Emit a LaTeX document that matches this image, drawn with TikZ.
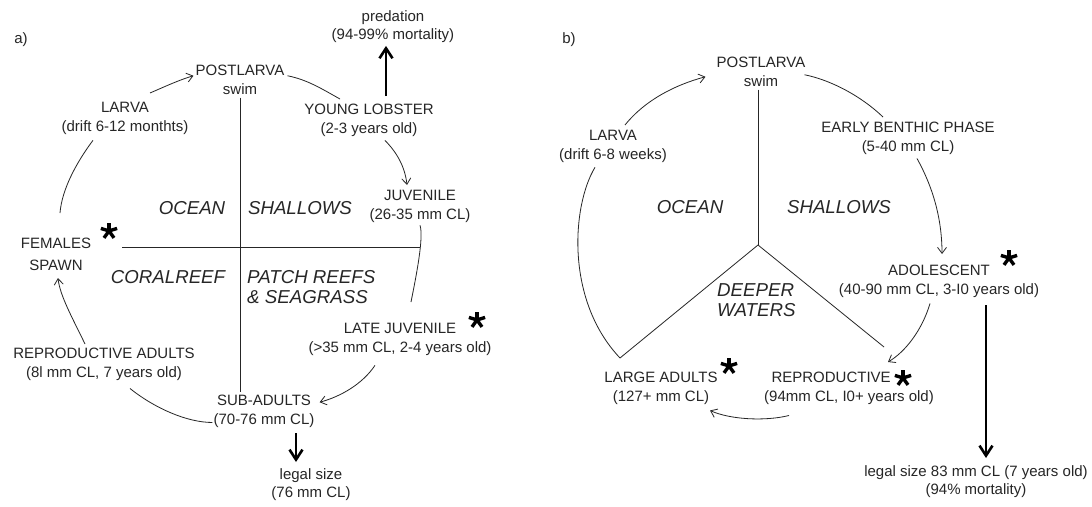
\documentclass[tikz,border=0pt]{standalone}
\usepackage{fontspec}
\setmainfont{Liberation Sans}
\usetikzlibrary{arrows.meta,calc}
\begin{document}
\begin{tikzpicture}[x=1pt,y=-1pt,
  lbl/.style={anchor=north, align=center, inner sep=3pt, text=black!85, font=\fontsize{15}{18.5}\selectfont},
  reg/.style={inner sep=0pt, text=black!85, font=\fontsize{18.7}{20}\selectfont\itshape},
  ln/.style={line width=0.8pt, black!85},
  arr/.style={ln, -{Straight Barb[length=6pt,width=9pt]}},
  bigarr/.style={line width=2.6pt, black, -{Straight Barb[length=10pt,width=13pt]}},
  ast/.pic={\foreach \a in {-90,-18,54,126,198} \draw[line width=3.4pt, black] (0,0) -- (\a:8.5);}
]
\useasboundingbox (0,0) rectangle (1092,506);
\fill[white] (0,0) rectangle (1092,506);

% ---------- panel a ----------
\node[lbl] (la) at (21,29) {a)};
\node[lbl] (pred) at (393,7) {predation\\(94-99\% mortality)};
\node[lbl] (postA) at (240,62) {POSTLARVA\\swim};
\node[lbl] (larvaA) at (125,99) {LARVA\\(drift 6-12 monthts)};
\node[lbl] (youngA) at (369,101) {YOUNG LOBSTER\\(2-3 years old)};
\node[lbl] (juvA) at (420,187) {JUVENILE\\(26-35 mm CL)};
\node[lbl] (femA) at (56,235) {FEMALES\\[3.5pt]SPAWN};
\node[lbl] (lateA) at (400,320) {LATE JUVENILE\\(>35 mm CL, 2-4 years old)};
\node[lbl] (repA) at (104,345) {REPRODUCTIVE ADULTS\\(8l mm CL, 7 years old)};
\node[lbl] (subA) at (264,392) {SUB-ADULTS\\(70-76 mm CL)};
\node[lbl] (legalA) at (311,465) {legal size\\(76 mm CL)};

\node[reg] (oceanA) at (192,208) {OCEAN};
\node[reg] (shalA) at (300,208) {SHALLOWS};
\node[reg] (coralA) at (168,277) {CORALREEF};
\node[reg, anchor=north west, align=left] (patchA) at (247,270) {PATCH REEFS\\\& SEAGRASS};

\pic at (109,231) {ast};
\pic at (477,320) {ast};

\coordinate (hL) at (122,247);
\coordinate (hR) at (420,247);
\draw[ln] (postA.south) -- (postA.south |- subA.north);
\draw[ln] (hL) -- (hR);

\draw[arr] ($(larvaA.north)+(25,-6)$) .. controls +(14,-6) and +(-14,4) .. ($(postA.west)+(1,-4)$);
\draw[ln] ($(postA.east)+(0,-4)$) .. controls +(20,4) and +(-18,-10) .. ($(youngA.north)+(-29,-2)$);
\draw[bigarr] ($(youngA.north)+(17,-5)$) -- ($(pred.south)+(-7,0)$);
\draw[arr] ($(youngA.south)+(16,1)$) .. controls +(12,12) and +(-2,-18) .. ($(juvA.north)+(-13,-2)$);
\draw[ln] (juvA.south) .. controls +(4,12) and +(5,-25) .. ($(lateA.north)+(11,-18)$);
\draw[arr] ($(lateA.south)+(-25,7)$) .. controls +(-12,18) and +(22,-6) .. ($(subA.east)+(2,-9)$);
\draw[ln] ($(repA.south)+(26,5)$) .. controls +(25,20) and +(-25,0) .. ($(subA.south west)+(2,-8)$);
\draw[arr] ($(repA.north)+(-19,-1)$) .. controls +(-12,-25) and +(2,18) .. ($(femA.south)+(2,4)$);
\draw[ln] ($(larvaA.south)+(-32,3)$) .. controls +(-15,20) and +(2,-25) .. ($(femA.north)+(4,-22)$);
\draw[bigarr] ($(subA.south)+(32,3)$) -- ($(legalA.north)+(-15,-3)$);

% ---------- panel b ----------
\node[lbl] (lb) at (569,29) {b)};
\node[lbl] (postB) at (761,54) {POSTLARVA\\swim};
\node[lbl] (larvaB) at (613,127) {LARVA\\(drift 6-8 weeks)};
\node[lbl] (earlyB) at (908,119) {EARLY BENTHIC PHASE\\(5-40 mm CL)};
\node[lbl] (adolB) at (939,262) {ADOLESCENT\\(40-90 mm CL, 3-I0 years old)};
\node[lbl] (reproB) at (849,369) {\makebox[155pt][l]{REPRODUCTIVE}\\(94mm CL, I0+ years old)};
\node[lbl] (largeB) at (661,369) {LARGE ADULTS\\(127+ mm CL)};
\node[lbl] (legalB) at (976,462) {legal size 83 mm CL (7 years old)\\(94\% mortality)};

\node[reg] (oceanB) at (690,207) {OCEAN};
\node[reg] (shalB) at (839,207) {SHALLOWS};
\node[reg, anchor=north west, align=left] (deepB) at (717,283) {DEEPER\\WATERS};

\pic at (729,366) {ast};
\pic at (903,378) {ast};
\pic at (1009,258) {ast};

\coordinate (cB) at (758,245);
\coordinate (cL) at (620,358);
\coordinate (cR) at (884,347);
\draw[ln] (postB.south -| cB) -- (cB);
\draw[ln] (cB) -- (cL);
\draw[ln] (cB) -- (cR);
\draw[ln] ($(larvaB.south)+(-18,2)$) .. controls +(-23,38) and +(-55,-58) .. (cL);
\draw[arr] ($(larvaB.north)+(12,-2)$) .. controls +(20,-25) and +(-30,8) .. ($(postB.west)+(-8,5)$);
\draw[ln] ($(postB.east)+(-4,3)$) .. controls +(25,5) and +(-23,-22) .. ($(earlyB.north)+(-25,-2)$);
\draw[arr] ($(earlyB.south)+(9,1)$) .. controls +(15,27) and +(0,-37) .. ($(adolB.north)+(3,-8)$);
\draw[arr] ($(adolB.south)+(-9,3)$) .. controls +(-8,27) and +(17,-10) .. ($(reproB.north)+(39,-7)$);
\draw[bigarr] ($(adolB.south)+(47,5)$) -- ($(legalB.north)+(10,-4)$);
\draw[arr] ($(reproB.south)+(-60,8)$) .. controls +(-24,6) and +(20,9) .. ($(largeB.south)+(49,3)$);
\end{tikzpicture}
\end{document}
